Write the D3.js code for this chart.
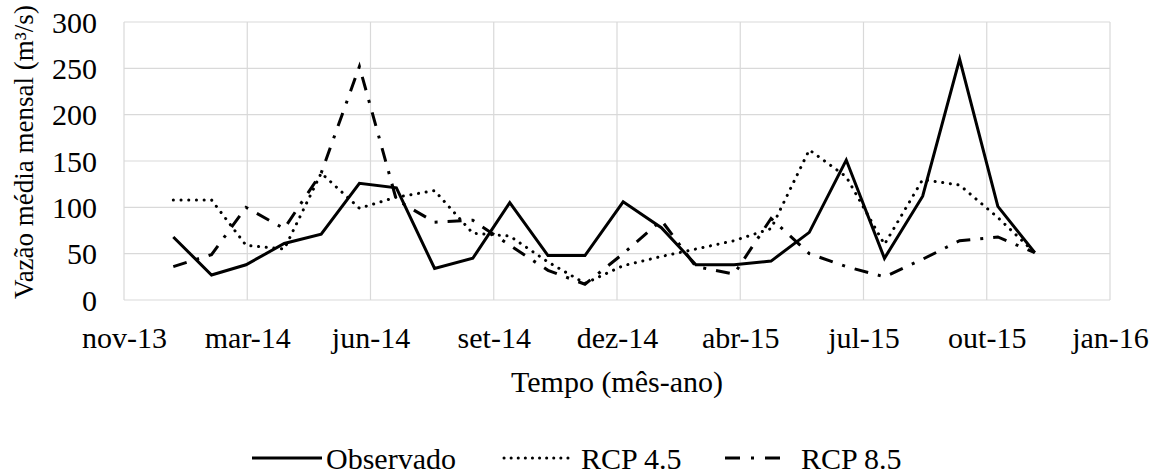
<!DOCTYPE html>
<html>
<head>
<meta charset="utf-8">
<script src="https://cdn.jsdelivr.net/npm/d3@7/dist/d3.min.js"></script>
<style>
  html, body { margin: 0; padding: 0; background: #fff; }
  svg text { font-family: 'Liberation Serif', 'Times New Roman', Times, 'Nimbus Roman', 'DejaVu Serif', serif !important; fill: #000; }
</style>
</head>
<body>
<svg id="chart" width="1163" height="475"></svg>
<script>
// ---- data ----
const months = ["2014-01","2014-02","2014-03","2014-04","2014-05","2014-06","2014-07","2014-08","2014-09","2014-10","2014-11","2014-12",
                "2015-01","2015-02","2015-03","2015-04","2015-05","2015-06","2015-07","2015-08","2015-09","2015-10","2015-11","2015-12"];
const observado = [68, 27, 38, 61, 71, 126, 121, 34, 45, 105, 48, 48, 106, 78, 38, 38, 42, 73, 151, 45, 112, 260, 101, 51];
const rcp45     = [108, 108, 59, 55, 137, 99, 111, 118, 72, 69, 41, 18, 37, 47, 55, 64, 77, 162, 133, 60, 130, 124, 89, 51];
const rcp85     = [36, 49, 100, 77, 137, 252, 108, 84, 86, 59, 32, 17, 50, 86, 36, 28, 88, 50, 36, 25, 44, 64, 68, 51];
const yTicks = [0, 50, 100, 150, 200, 250, 300];
const monthNames = ["jan","fev","mar","abr","mai","jun","jul","ago","set","out","nov","dez"];
const seriesNames = ["Observado", "RCP 4.5", "RCP 8.5"];

// ---- layout ----
const FONT = "'Liberation Serif', 'Times New Roman', Times, 'Nimbus Roman', 'DejaVu Serif', serif";
const svg = d3.select("#chart");
const L = 124, R = 1110, T = 22, B = 300;
const xStart = new Date(Date.UTC(2013, 10, 22));
const xEnd = new Date(Date.UTC(2016, 0, 31));
const x = d3.scaleUtc().domain([xStart, xEnd]).range([L, R]);
const y = d3.scaleLinear().domain([0, 300]).range([B, T]);
const dates = months.map(m => { const [yy, mm] = m.split("-").map(Number); return new Date(Date.UTC(yy, mm - 1, 1)); });
const xTicks = d3.range(0, 9).map(i => d3.utcDay.offset(xStart, i * 100));
const fmt = d => monthNames[d.getUTCMonth()] + "-" + String(d.getUTCFullYear()).slice(2);

const grid = "#d9d9d9";
svg.append("g").selectAll("line").data(yTicks).join("line")
  .attr("x1", L).attr("x2", R).attr("y1", d => y(d)).attr("y2", d => y(d))
  .attr("stroke", grid).attr("stroke-width", 1.2);
svg.append("g").selectAll("line").data(xTicks).join("line")
  .attr("x1", d => x(d)).attr("x2", d => x(d)).attr("y1", T).attr("y2", B)
  .attr("stroke", grid).attr("stroke-width", 1.2);

// y axis labels
const yAxis = d3.axisLeft(y).tickValues(yTicks).tickSize(0).tickPadding(0);
const gy = svg.append("g").attr("transform", `translate(${L - 27},0)`).call(yAxis)
  .attr("font-family", FONT).attr("font-size", 30);
gy.select(".domain").remove();
gy.selectAll("text").attr("font-family", FONT).attr("font-size", 30).attr("dy", "0.34em");

// x axis labels
const xAxis = d3.axisBottom(x).tickValues(xTicks).tickFormat(fmt).tickSize(0).tickPadding(0);
const gx = svg.append("g").attr("transform", `translate(0,${B + 48})`).call(xAxis)
  .attr("font-family", FONT).attr("font-size", 30);
gx.select(".domain").remove();
gx.selectAll("text").attr("font-family", FONT).attr("font-size", 30).attr("dy", 0);

// axis titles
svg.append("text").attr("x", (L + R) / 2).attr("y", 392).attr("text-anchor", "middle")
  .attr("font-family", FONT).attr("font-size", 30).text("Tempo (mês-ano)");
svg.append("text").attr("transform", `translate(33,152) rotate(-90)`).attr("text-anchor", "middle")
  .attr("font-family", FONT).attr("font-size", 27).text("Vazão média mensal (m³/s)");

// lines
const styles = [
  { data: observado, width: 3, dash: null, cap: "butt" },
  { data: rcp45, width: 3, dash: "0.1 7.6", cap: "round" },
  { data: rcp85, width: 3, dash: "14 10 3 10", cap: "butt" }
];
const line = d3.line().x((d, i) => x(dates[i])).y(d => y(d));
styles.slice().reverse().forEach(s => {
  svg.append("path").datum(s.data).attr("d", line)
    .attr("fill", "none").attr("stroke", "#000").attr("stroke-width", s.width)
    .attr("stroke-dasharray", s.dash).attr("stroke-linecap", s.cap).attr("stroke-linejoin", "miter");
});

// legend
const legend = [
  { name: seriesNames[0], x1: 252, x2: 322, tx: 326, s: styles[0], dash: null },
  { name: seriesNames[1], x1: 504, x2: 575, tx: 581, s: styles[1], dash: "0.1 7" },
  { name: seriesNames[2], x1: 725, x2: 782, tx: 801, s: styles[2], dash: "15 11 3 11" }
];
legend.forEach(l => {
  svg.append("line").attr("x1", l.x1).attr("x2", l.x2).attr("y1", 458).attr("y2", 458)
    .attr("stroke", "#000").attr("stroke-width", l.s.width)
    .attr("stroke-dasharray", l.dash).attr("stroke-linecap", l.s.cap);
  svg.append("text").attr("x", l.tx).attr("y", 469).attr("font-family", FONT).attr("font-size", 30).text(l.name);
});
</script>
</body>
</html>
